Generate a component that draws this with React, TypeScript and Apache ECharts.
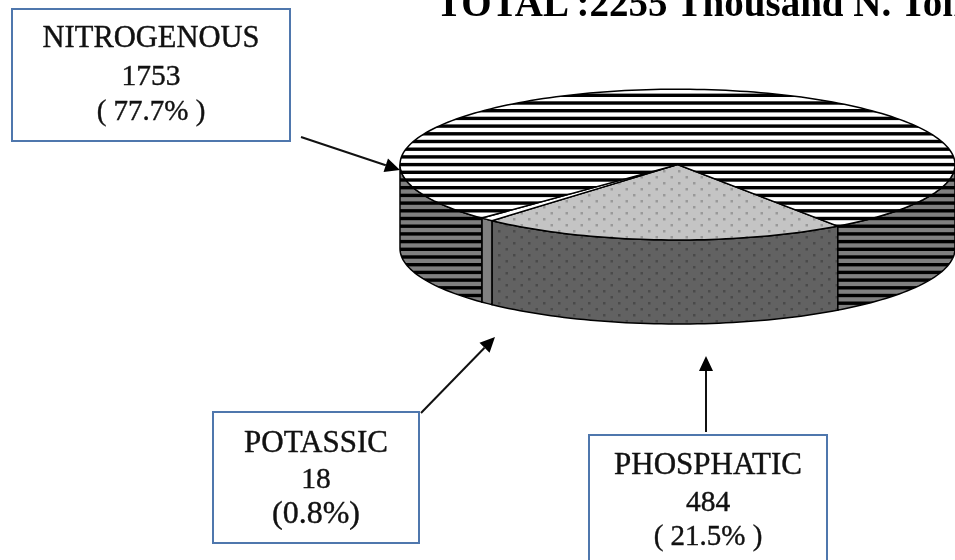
import React, { useEffect, useRef } from "react";
import * as echarts from "echarts";

const categories = ["PHOSPHATIC", "POTASSIC", "NITROGENOUS"];
const values = [484, 18, 1753];
const percentLabels = ["( 21.5% )", "(0.8%)", "( 77.7% )"];
const titleText = "TOTAL :2255 Thousand N. Ton";
const START_DEG = 54.7;

const CX = 677.5, CY = 164.6, RX = 277.5, RY = 75.4, DEPTH = 84;
const FONT = '"Liberation Serif", "Times New Roman", serif';

function stripe(bg: string, fg: string, ph: number) {
  const c = document.createElement("canvas");
  c.width = 8; c.height = 77;
  const g = c.getContext("2d")!;
  g.fillStyle = bg; g.fillRect(0, 0, 8, 77);
  g.fillStyle = fg;
  for (let k = -1; k < 11; k++) g.fillRect(0, ph + k * 7.7, 8, 3.4);
  return { image: c, repeat: "repeat" };
}
function dots(bg: string, fg: string) {
  const c = document.createElement("canvas");
  c.width = 15; c.height = 12;
  const g = c.getContext("2d")!;
  g.fillStyle = bg; g.fillRect(0, 0, 15, 12);
  g.fillStyle = fg;
  g.fillRect(3, 2, 2.5, 2.5); g.fillRect(10.5, 8, 2.5, 2.5);
  return { image: c, repeat: "repeat" };
}

const pt = (deg: number, dy = 0): number[] => {
  const a = (deg * Math.PI) / 180;
  return [CX + RX * Math.cos(a), CY + RY * Math.sin(a) + dy];
};
const arc = (a: number, b: number, dy = 0) => {
  const out: number[][] = [];
  const n = Math.max(2, Math.ceil(Math.abs(b - a) / 1.5));
  for (let i = 0; i <= n; i++) out.push(pt(a + ((b - a) * i) / n, dy));
  return out;
};

function arrow(x1: number, y1: number, x2: number, y2: number) {
  const a = Math.atan2(y2 - y1, x2 - x1);
  const L = 15, W = 7;
  const bx = x2 - L * Math.cos(a), by = y2 - L * Math.sin(a);
  return [
    { type: "line", shape: { x1, y1, x2: bx, y2: by }, style: { stroke: "#111", lineWidth: 2 } },
    {
      type: "polygon",
      shape: { points: [[x2, y2], [bx - W * Math.sin(a), by + W * Math.cos(a)], [bx + W * Math.sin(a), by - W * Math.cos(a)]] },
      style: { fill: "#000" },
    },
  ];
}

function box(i: number, x: number, y: number, w: number, h: number, ty: number[], sizes: number[]) {
  const cx = x + w / 2;
  const lines = [categories[i], String(values[i]), percentLabels[i]];
  return [
    { type: "rect", shape: { x, y, width: w, height: h }, style: { fill: "#fff", stroke: "#4f77ad", lineWidth: 2 } },
    ...lines.map((t, k) => ({
      type: "text", x: cx, y: ty[k],
      style: {
        text: t, fill: "#111", stroke: "#111", lineWidth: 0.4,
        font: `${sizes[k]}px ${FONT}`, textAlign: "center", textVerticalAlign: "middle",
      },
    })),
  ];
}

export default function App() {
  const ref = useRef<HTMLDivElement>(null);
  useEffect(() => {
    const chart = echarts.init(ref.current!, undefined, { renderer: "svg" });
    const total = values.reduce((a, b) => a + b, 0);
    const spans: number[][] = [];
    let s = START_DEG;
    values.forEach((v) => { const e = s + (v / total) * 360; spans.push([s, e]); s = e; });

    const topFill = [dots("#c4c4c4", "#999999"), "#ffffff", stripe("#ffffff", "#000000", 1.2)];
    const sideFill = [dots("#626262", "#4a4a4a"), "#808080", stripe("#808080", "#000000", 1.2)];

    const sides = (i: number) => {
      const [a, b] = spans[i];
      const parts: number[][] = [];
      for (const [lo, hi] of [[0, 180], [360, 540]]) {
        const x = Math.max(a, lo), y = Math.min(b, hi);
        if (y > x) parts.push([x, y]);
      }
      return parts.map((p) => ({
        type: "polygon",
        shape: { points: [...arc(p[0], p[1]), ...arc(p[1], p[0], DEPTH)] },
        style: { fill: sideFill[i], stroke: "#000", lineWidth: 1.5 },
      }));
    };
    const top = (i: number) => ({
      type: "polygon",
      shape: { points: [[CX, CY], ...arc(spans[i][0], spans[i][1])] },
      style: { fill: topFill[i], stroke: "#000", lineWidth: 1.5 },
    });

    chart.setOption({
      animation: false,
      backgroundColor: "#ffffff",
      series: [
        {
          type: "custom",
          coordinateSystem: "none",
          silent: true,
          data: values,
          renderItem: (p: any) => ({ type: "group", children: [...sides(p.dataIndex), top(p.dataIndex)] }),
        },
      ],
      graphic: {
        elements: [
          {
            type: "text", x: 436, y: 2,
            style: { text: titleText, fill: "#000", font: `bold 39px ${FONT}`, textAlign: "left", textVerticalAlign: "middle" },
          },
          ...box(2, 12, 9, 278, 132, [37, 75, 110], [30.5, 29.5, 29]),
          ...box(1, 213, 412, 206, 131, [441, 478, 512], [31, 29.5, 32]),
          ...box(0, 589, 435, 238, 140, [463, 501, 535], [31, 29.5, 29]),
          ...arrow(301, 137, 400, 170),
          ...arrow(421, 413, 495, 337),
          ...arrow(706, 432, 706, 356),
        ],
      },
    });
    return () => chart.dispose();
  }, []);
  return (
    <div
      ref={ref}
      style={{ position: "fixed", left: 0, top: 0, width: 955, height: 560, overflow: "hidden", filter: "blur(0.45px)" }}
    />
  );
}
